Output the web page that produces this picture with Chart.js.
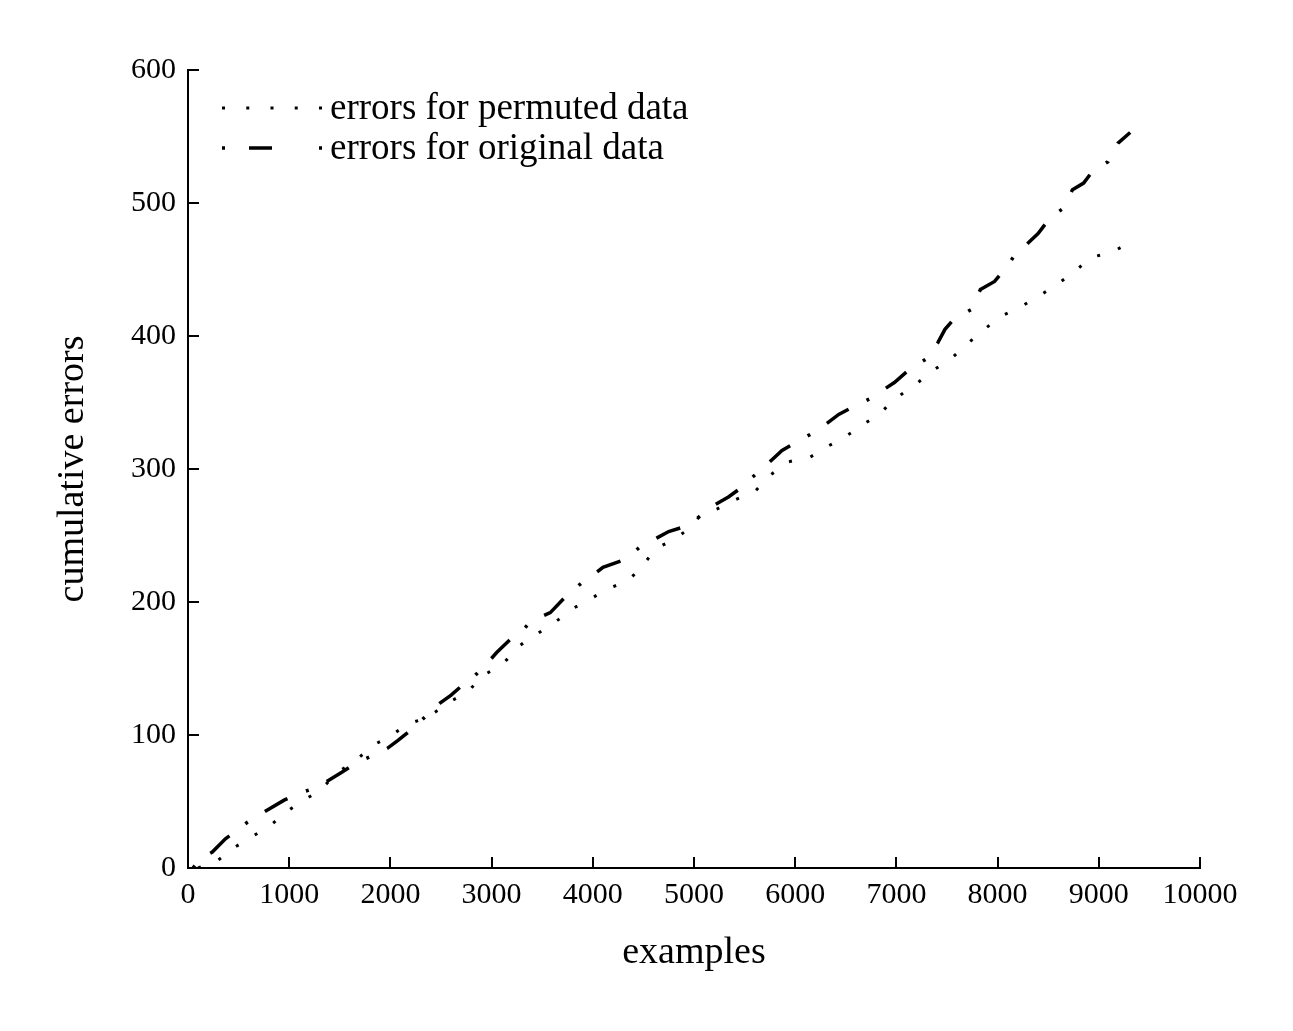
<!DOCTYPE html>
<html>
<head>
<meta charset="utf-8">
<script src="https://cdn.jsdelivr.net/npm/chart.js@4.4.0/dist/chart.umd.min.js"></script>
<style>
body { margin: 0; background: #fff; }
#wrap { width: 1293px; height: 1031px; }
</style>
</head>
<body>
<div id="wrap"><canvas id="grafic"></canvas></div>
<script>
// Date
const exempleOriginal = [50, 100, 170, 240, 370, 480, 580, 750, 950, 1130, 1250, 1370, 1520, 1660, 1870, 1970, 2075, 2240, 2360, 2490,
  2600, 2690, 2840, 2980, 3050, 3200, 3300, 3380, 3580, 3730, 3900, 4000, 4100, 4320, 4460, 4630, 4750, 4880, 5050, 5180,
  5340, 5450, 5550, 5700, 5870, 6050, 6150, 6275, 6430, 6580, 6770, 6880, 6980, 7130, 7300, 7410, 7480, 7560, 7740, 7830,
  7970, 8090, 8180, 8260, 8400, 8520, 8650, 8740, 8850, 8930, 9090, 9190, 9310];
const eroriOriginal = [0, 5, 9, 12, 22, 28, 34, 42, 51, 57, 60, 65, 72, 79, 86, 90, 96, 106, 115, 124,
  130, 136, 145, 156, 162, 173, 178, 185, 192, 204, 215, 220, 226, 232, 241, 248, 253, 256, 264, 272,
  279, 285, 292, 302, 314, 322, 326, 332, 341, 347, 354, 360, 365, 375, 383, 395, 405, 412, 420, 435,
  441, 452, 462, 467, 477, 489, 496, 510, 515, 523, 531, 545, 553];

const exemplePermutat = [100, 300, 470, 640, 800, 950, 1120, 1300, 1440, 1520, 1660, 1820, 2000, 2160, 2360, 2590, 2770, 2920, 3110, 3240,
  3400, 3580, 3800, 3970, 4150, 4350, 4490, 4620, 4800, 4970, 5050, 5230, 5410, 5600, 5750, 5910, 6150, 6320, 6490, 6660,
  6830, 6970, 7180, 7360, 7540, 7670, 7850, 8040, 8230, 8410, 8590, 8770, 8920, 9130, 9300];
const eroriPermutat = [0, 6, 16, 24, 31, 41, 50, 58, 69, 74, 81, 92, 99, 108, 113, 125, 133, 145, 153, 165,
  174, 182, 195, 202, 210, 216, 227, 240, 247, 256, 264, 270, 277, 283, 295, 305, 309, 317, 324, 333,
  341, 352, 363, 374, 383, 392, 404, 415, 422, 430, 439, 449, 459, 463, 470];

const etichete = ['errors for permuted data', 'errors for original data'];

const font = '"Liberation Serif", "Times New Roman", serif';

function puncte(xs, ys) {
  return xs.map((x, i) => ({ x: x, y: ys[i] }));
}

// Tick-uri interioare + legenda in zona graficului
const pluginAxe = {
  id: 'pluginAxe',
  afterDraw(chart) {
    const ctx = chart.ctx, a = chart.chartArea;
    const sx = chart.scales.x, sy = chart.scales.y;
    ctx.save();
    ctx.strokeStyle = '#000';
    ctx.lineWidth = 2;
    sx.ticks.forEach(t => {
      const px = Math.round(sx.getPixelForValue(t.value));
      ctx.beginPath(); ctx.moveTo(px, a.bottom); ctx.lineTo(px, a.bottom - 11); ctx.stroke();
    });
    sy.ticks.forEach(t => {
      const py = Math.round(sy.getPixelForValue(t.value));
      ctx.beginPath(); ctx.moveTo(a.left, py); ctx.lineTo(a.left + 11, py); ctx.stroke();
    });
    // legenda
    const dashLegenda = [[3, 21.25], [3, 24, 23, 47]];
    chart.data.datasets.forEach((ds, i) => {
      const y = 108 + i * 40;
      ctx.setLineDash(dashLegenda[i]);
      ctx.lineWidth = ds.borderWidth;
      ctx.beginPath(); ctx.moveTo(222, y); ctx.lineTo(323, y); ctx.stroke();
      ctx.setLineDash([]);
      ctx.fillStyle = '#000';
      ctx.font = '37px ' + font;
      ctx.textBaseline = 'middle';
      ctx.fillText(ds.label, 330, y + 1);
    });
    ctx.restore();
  }
};

new Chart(document.getElementById('grafic').getContext('2d'), {
  type: 'scatter',
  data: {
    datasets: [
      { label: etichete[0], data: puncte(exemplePermutat, eroriPermutat), showLine: true, borderColor: '#000', borderWidth: 3, borderDash: [3, 19], pointRadius: 0, fill: false },
      { label: etichete[1], data: puncte(exempleOriginal, eroriOriginal), showLine: true, borderColor: '#000', borderWidth: 3.5, borderDash: [3, 20, 26, 20], pointRadius: 0, fill: false }
    ]
  },
  options: {
    responsive: true,
    maintainAspectRatio: false,
    animation: false,
    layout: { padding: { left: 0, top: 70, right: 93, bottom: 0 } },
    plugins: { legend: { display: false }, tooltip: { enabled: false } },
    scales: {
      x: {
        type: 'linear', min: 0, max: 10000,
        grid: { display: false },
        border: { display: true, color: '#000', width: 2 },
        ticks: { stepSize: 1000, color: '#000', padding: 1, maxRotation: 0, font: { family: font, size: 30 }, callback: v => String(v) },
        title: { display: true, text: 'examples', color: '#000', font: { family: font, size: 38 }, padding: { top: 0, bottom: 55 } },
        afterFit(s) { s.height = 163; }
      },
      y: {
        type: 'linear', min: 0, max: 600,
        grid: { display: false },
        border: { display: true, color: '#000', width: 2 },
        ticks: { stepSize: 100, color: '#000', padding: 4, font: { family: font, size: 30 }, callback: v => String(v) },
        title: { display: true, text: 'cumulative errors', color: '#000', font: { family: font, size: 38 }, padding: { top: 50, bottom: 0 } },
        afterFit(s) { s.width = 188; }
      }
    }
  },
  plugins: [pluginAxe]
});
</script>
</body>
</html>
